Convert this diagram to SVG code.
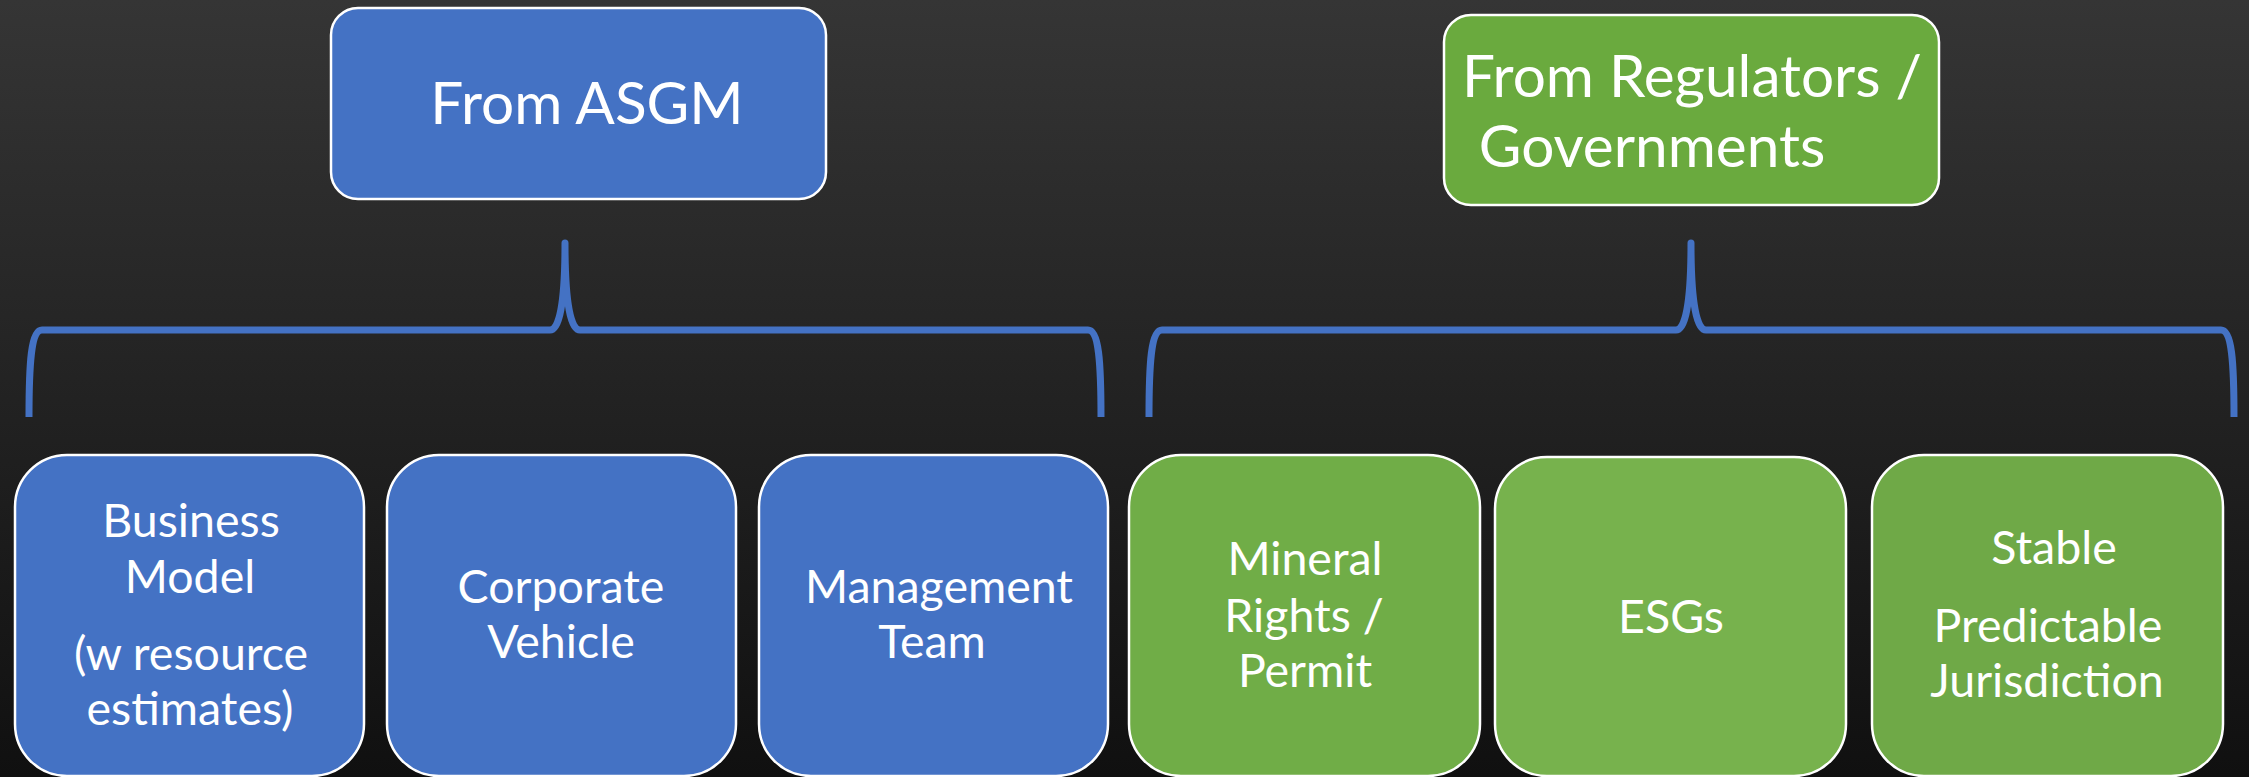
<svg xmlns="http://www.w3.org/2000/svg" width="2249" height="777" viewBox="0 0 2249 777">
<defs>
<linearGradient id="bg" x1="0" y1="0" x2="0" y2="1">
<stop offset="0" stop-color="#353535"/>
<stop offset="1" stop-color="#101010"/>
</linearGradient>
<style>
.box{stroke:#ffffff;stroke-width:2.5}
.blue{fill:#4472c4}
.t{fill:#ffffff;font-family:Lato,"Liberation Sans",sans-serif;text-anchor:middle}
.big{font-size:58.5px}
.sm{font-size:46.5px}
.brace{fill:none;stroke:#4472c4;stroke-width:7;stroke-linecap:butt;stroke-linejoin:round}
</style>
</defs>
<rect x="0" y="0" width="2249" height="777" fill="url(#bg)"/>

<g id="from-asgm">
<rect class="box blue" x="331" y="8" width="495" height="191" rx="27"/>
<text class="t big" x="587" y="124">From ASGM</text>
</g>

<g id="from-regulators">
<rect class="box" fill="#6aaa3e" x="1444" y="15" width="495" height="190" rx="27"/>
<text class="t big" x="1692" y="97">From Regulators /</text>
<text class="t big" x="1652" y="167">Governments</text>
</g>

<g id="connectors">
<path class="brace" d="M29,417 C29,362 31,330 42,330 L550,330 C559,330 565,305 565,243 C565,305 571,330 580,330 L1088,330 C1099,330 1101,362 1101,417"/>
<path class="brace" d="M1149,417 C1149,362 1151,330 1162,330 L1676,330 C1685,330 1691,305 1691,243 C1691,305 1697,330 1706,330 L2221,330 C2232,330 2234,362 2234,417"/>
</g>

<g id="business-model">
<rect class="box blue" x="15" y="455" width="349" height="321" rx="52"/>
<text class="t sm" x="191" y="537">Business</text>
<text class="t sm" x="190" y="593">Model</text>
<text class="t sm" x="191" y="670">(w resource</text>
<text class="t sm" x="190" y="725">estimates)</text>
</g>

<g id="corporate-vehicle">
<rect class="box blue" x="387" y="455" width="349" height="321" rx="52"/>
<text class="t sm" x="561" y="603">Corporate</text>
<text class="t sm" x="561" y="658">Vehicle</text>
</g>

<g id="management-team">
<rect class="box blue" x="759" y="455" width="349" height="321" rx="52"/>
<text class="t sm" x="939" y="603">Management</text>
<text class="t sm" x="932" y="658">Team</text>
</g>

<g id="mineral-rights">
<rect class="box" fill="#70ad47" x="1129" y="455" width="351" height="321" rx="52"/>
<text class="t sm" x="1305" y="575">Mineral</text>
<text class="t sm" x="1304" y="632">Rights /</text>
<text class="t sm" x="1305" y="687">Permit</text>
</g>

<g id="esgs">
<rect class="box" fill="#77b24d" x="1495" y="457" width="351" height="319" rx="52"/>
<text class="t sm" x="1671" y="633">ESGs</text>
</g>

<g id="stable-jurisdiction">
<rect class="box" fill="#6fa947" x="1872" y="455" width="351" height="321" rx="52"/>
<text class="t sm" x="2054" y="564">Stable</text>
<text class="t sm" x="2048" y="642">Predictable</text>
<text class="t sm" x="2047" y="697">Jurisdiction</text>
</g>
</svg>
